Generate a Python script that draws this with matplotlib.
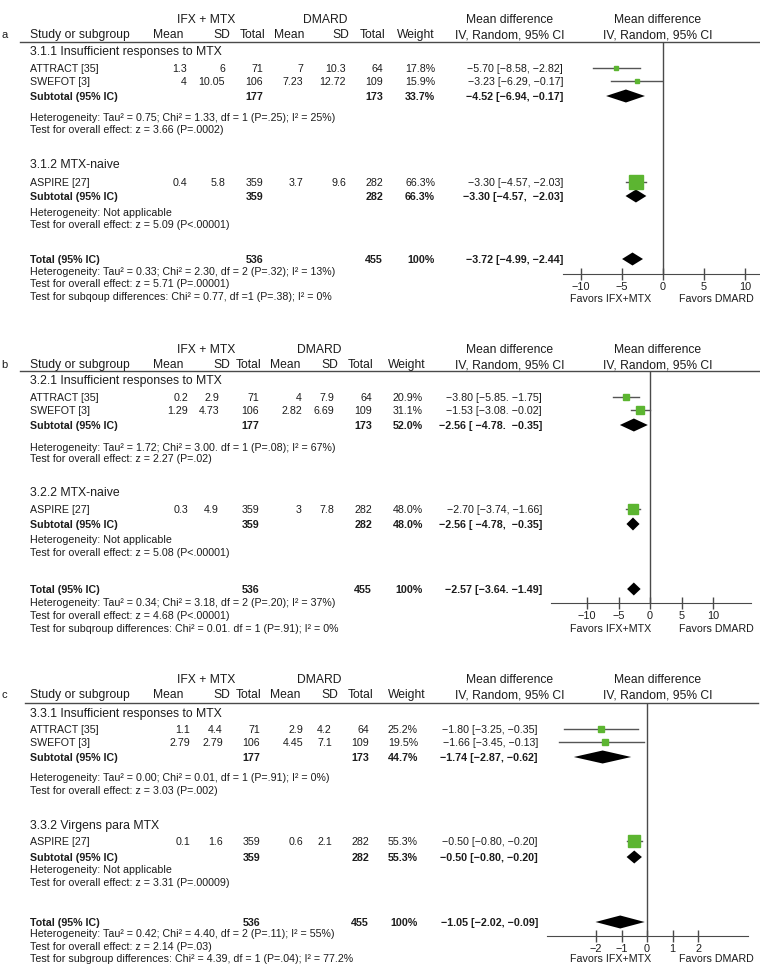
import matplotlib
matplotlib.use('Agg')  # no display
import matplotlib.pyplot as plt

plt.rcParams['font.family'] = ['Liberation Sans', 'DejaVu Sans']

STUDIES = ["ATTRACT [35]", "SWEFOT [3]", "ASPIRE [27]"]

# ---- panel a
A_GROUPS = ["3.1.1 Insufficient responses to MTX", "3.1.2 MTX-naive"]
A_MEAN1 = ["1.3", "4", "0.4"]
A_SD1 = ["6", "10.05", "5.8"]
A_N1 = ["71", "106", "359"]
A_MEAN2 = ["7", "7.23", "3.7"]
A_SD2 = ["10.3", "12.72", "9.6"]
A_N2 = ["64", "109", "282"]
A_WEIGHT = ["17.8%", "15.9%", "66.3%"]
A_CI_TXT = ["\u22125.70 [\u22128.58, \u22122.82]", "\u22123.23 [\u22126.29, \u22120.17]",
            "\u22123.30 [\u22124.57, \u22122.03]"]
A_MD = [-5.70, -3.23, -3.30]
A_LO = [-8.58, -6.29, -4.57]
A_HI = [-2.82, -0.17, -2.03]
A_SUB_N1 = ["177", "359", "536"]
A_SUB_N2 = ["173", "282", "455"]
A_SUB_W = ["33.7%", "66.3%", "100%"]
A_SUB_CI = ["\u22124.52 [\u22126.94, \u22120.17]", "\u22123.30 [\u22124.57,  \u22122.03]",
            "\u22123.72 [\u22124.99, \u22122.44]"]
A_DIA_MD = [-4.52, -3.30, -3.72]
A_DIA_LO = [-6.94, -4.57, -4.99]
A_DIA_HI = [-2.2, -2.03, -2.44]
A_STATS = ["Heterogeneity: Tau\u00b2 = 0.75; Chi\u00b2 = 1.33, df = 1 (P=.25); I\u00b2 = 25%)",
           "Test for overall effect: z = 3.66 (P=.0002)",
           "Heterogeneity: Not applicable",
           "Test for overall effect: z = 5.09 (P<.00001)",
           "Heterogeneity: Tau\u00b2 = 0.33; Chi\u00b2 = 2.30, df = 2 (P=.32); I\u00b2 = 13%)",
           "Test for overall effect: z = 5.71 (P=.00001)",
           "Test for subqoup differences: Chi\u00b2 = 0.77, df =1 (P=.38); I\u00b2 = 0%"]
A_TICKS = [-10, -5, 0, 5, 10]

# ---- panel b
B_GROUPS = ["3.2.1 Insufficient responses to MTX", "3.2.2 MTX-naive"]
B_MEAN1 = ["0.2", "1.29", "0.3"]
B_SD1 = ["2.9", "4.73", "4.9"]
B_N1 = ["71", "106", "359"]
B_MEAN2 = ["4", "2.82", "3"]
B_SD2 = ["7.9", "6.69", "7.8"]
B_N2 = ["64", "109", "282"]
B_WEIGHT = ["20.9%", "31.1%", "48.0%"]
B_CI_TXT = ["\u22123.80 [\u22125.85. \u22121.75]", "\u22121.53 [\u22123.08. \u22120.02]",
            "\u22122.70 [\u22123.74, \u22121.66]"]
B_MD = [-3.80, -1.53, -2.70]
B_LO = [-5.85, -3.08, -3.74]
B_HI = [-1.75, -0.02, -1.66]
B_SUB_N1 = ["177", "359", "536"]
B_SUB_N2 = ["173", "282", "455"]
B_SUB_W = ["52.0%", "48.0%", "100%"]
B_SUB_CI = ["\u22122.56 [ \u22124.78.  \u22120.35]", "\u22122.56 [ \u22124.78,  \u22120.35]",
            "\u22122.57 [\u22123.64. \u22121.49]"]
B_DIA_MD = [-2.56, -2.70, -2.57]
B_DIA_LO = [-4.78, -3.74, -3.64]
B_DIA_HI = [-0.35, -1.66, -1.49]
B_STATS = ["Heterogeneity: Tau\u00b2 = 1.72; Chi\u00b2 = 3.00. df = 1 (P=.08); I\u00b2 = 67%)",
           "Test for overall effect: z = 2.27 (P=.02)",
           "Heterogeneity: Not applicable",
           "Test for overall effect: z = 5.08 (P<.00001)",
           "Heterogeneity: Tau\u00b2 = 0.34; Chi\u00b2 = 3.18, df = 2 (P=.20); I\u00b2 = 37%)",
           "Test for overall effect: z = 4.68 (P<.00001)",
           "Test for subqroup differences: Chi\u00b2 = 0.01. df = 1 (P=.91); I\u00b2 = 0%"]
B_TICKS = [-10, -5, 0, 5, 10]

# ---- panel c
C_GROUPS = ["3.3.1 Insufficient responses to MTX", "3.3.2 Virgens para MTX"]
C_MEAN1 = ["1.1", "2.79", "0.1"]
C_SD1 = ["4.4", "2.79", "1.6"]
C_N1 = ["71", "106", "359"]
C_MEAN2 = ["2.9", "4.45", "0.6"]
C_SD2 = ["4.2", "7.1", "2.1"]
C_N2 = ["64", "109", "282"]
C_WEIGHT = ["25.2%", "19.5%", "55.3%"]
C_CI_TXT = ["\u22121.80 [\u22123.25, \u22120.35]", "\u22121.66 [\u22123.45, \u22120.13]",
            "\u22120.50 [\u22120.80, \u22120.20]"]
C_MD = [-1.80, -1.66, -0.50]
C_LO = [-3.25, -3.45, -0.80]
C_HI = [-0.35, -0.13, -0.20]
C_SUB_N1 = ["177", "359", "536"]
C_SUB_N2 = ["173", "282", "455"]
C_SUB_W = ["44.7%", "55.3%", "100%"]
C_SUB_CI = ["\u22121.74 [\u22122.87, \u22120.62]", "\u22120.50 [\u22120.80, \u22120.20]",
            "\u22121.05 [\u22122.02, \u22120.09]"]
C_DIA_MD = [-1.74, -0.50, -1.05]
C_DIA_LO = [-2.87, -0.80, -2.02]
C_DIA_HI = [-0.62, -0.20, -0.09]
C_STATS = ["Heterogeneity: Tau\u00b2 = 0.00; Chi\u00b2 = 0.01, df = 1 (P=.91); I\u00b2 = 0%)",
           "Test for overall effect: z = 3.03 (P=.002)",
           "Heterogeneity: Not applicable",
           "Test for overall effect: z = 3.31 (P=.00009)",
           "Heterogeneity: Tau\u00b2 = 0.42; Chi\u00b2 = 4.40, df = 2 (P=.11); I\u00b2 = 55%)",
           "Test for overall effect: z = 2.14 (P=.03)",
           "Test for subgroup differences: Chi\u00b2 = 4.39, df = 1 (P=.04); I\u00b2 = 77.2%"]
C_TICKS = [-2, -1, 0, 1, 2]

W, H = 760, 964
TXT = '#1c1c1c'
LINE = '#4a4a4a'
GREEN = '#5cb531'
BODY = 7.7
HEAD = 8.7

fig = plt.figure(figsize=(W / 100, H / 100), dpi=100)
bg = fig.add_axes([0, 0, 1, 1])
bg.set_xlim(0, W)
bg.set_ylim(H, 0)
bg.axis('off')


def t(x, y, s, size=BODY, ha='left', bold=False):
    # y is the visual centre of the capitals, in pixels from the top
    bg.text(x, y + 0.36 * size * 100 / 72, s, fontsize=size, ha=ha, va='baseline',
            color=TXT, fontweight='bold' if bold else 'normal')


def panel(L, label, groups, m1, s1, n1, m2, s2, n2, wts, ci_txt, md, lo, hi,
          sub_n1, sub_n2, sub_w, sub_ci, dmd, dlo, dhi, stats, ticks):
    c = L['cols']
    hc = L['hcols']
    t(1, L['study'], label, size=8)
    t(206, L['top'], "IFX + MTX", HEAD, 'center')
    t(L['dmard'], L['top'], "DMARD", HEAD, 'center')
    t(30, L['study'], "Study or subgroup", HEAD)
    for x, s in zip(hc, ["Mean", "SD", "Total", "Mean", "SD", "Total", "Weight"]):
        t(x, L['study'], s, HEAD, 'right')
    for x in (510, 658):
        t(x, L['top'], "Mean difference", HEAD, 'center')
        t(x, L['study'], "IV, Random, 95% CI", HEAD, 'center')
    bg.plot([L['lx0'], L['lx1']], [L['line'], L['line']], color=LINE, lw=1)

    t(30, L['g1'], groups[0], 8.8)
    t(30, L['g2'], groups[1], 8.8)
    rows = [L['r1'], L['r2'], L['r3']]
    for i, y in enumerate(rows):
        t(30, y, STUDIES[i])
        for x, v in zip(c, [m1[i], s1[i], n1[i], m2[i], s2[i], n2[i], wts[i], ci_txt[i]]):
            t(x, y, v, BODY, 'right')
    subs = [L['s1'], L['s2'], L['tot']]
    for i, y in enumerate(subs):
        t(30, y, "Total (95% IC)" if i == 2 else "Subtotal (95% IC)", bold=True)
        t(c[2], y, sub_n1[i], ha='right', bold=True)
        t(c[5], y, sub_n2[i], ha='right', bold=True)
        t(c[6], y, sub_w[i], ha='right', bold=True)
        t(c[7], y, sub_ci[i], ha='right', bold=True)
    for key, s in zip(['h1', 'o1', 'h2', 'o2', 'hT', 'oT', 'sd'], stats):
        t(30, L[key], s)

    # forest plot axes, x in mean-difference units, y in page pixels
    x0, x1, z, k = L['ax0'], L['ax1'], L['zero'], L['scale']
    ax = fig.add_axes([x0 / W, 1 - L['axis'] / H, (x1 - x0) / W, (L['axis'] - L['line']) / H])
    ax.set_xlim((x0 - z) / k, (x1 - z) / k)
    ax.set_ylim(L['axis'], L['line'])
    ax.patch.set_alpha(0)
    for sp in ['top', 'left', 'right']:
        ax.spines[sp].set_visible(False)
    ax.spines['bottom'].set_color(LINE)
    ax.set_yticks([])
    ax.set_xticks(ticks)
    ax.tick_params(axis='x', direction='inout', length=9, width=1, colors=LINE,
                   labelcolor=TXT, labelsize=7.8, pad=1)
    ax.axvline(0, color=LINE, lw=1)
    for i, y in enumerate(rows):
        w = float(wts[i].strip('%'))
        ax.plot([lo[i], hi[i]], [y, y], color='#555555', lw=1, clip_on=False)
        ax.plot(md[i], y, 's', color=GREEN, mec=GREEN, ms=(1.5 + 0.18 * w) * 0.72, clip_on=False)
    for i, y in enumerate(subs):
        ax.fill([dlo[i], dmd[i], dhi[i], dmd[i]], [y, y - 6.5, y, y + 6.5],
                color='black', lw=0, clip_on=False)
    t(611, L['fav'], "Favors IFX+MTX", ha='center')
    t(716, L['fav'], "Favors DMARD", ha='center')


LA = dict(top=19, study=34, line=42, g1=51, r1=68, r2=81, s1=96, h1=117, o1=129,
          g2=164, r3=182, s2=196, h2=212, o2=224, tot=259, hT=271, oT=283, sd=296,
          axis=274, fav=298, dmard=325, lx0=20, lx1=760,
          cols=[187, 225, 263, 303, 346, 383, 435, 563],
          hcols=[183, 230, 265, 304, 349, 385, 435],
          ax0=563, ax1=760, zero=663, scale=8.2)
LB = dict(top=349, study=364, line=371, g1=380, r1=397, r2=410, s1=425, h1=447, o1=458,
          g2=492, r3=509, s2=524, h2=539, o2=552, tot=589, hT=602, oT=615, sd=628,
          axis=603, fav=628, dmard=319, lx0=20, lx1=760,
          cols=[188, 219, 259, 302, 334, 372, 423, 542],
          hcols=[183, 230, 261, 300, 338, 373, 426],
          ax0=551, ax1=751, zero=650, scale=6.3)
LC = dict(top=679, study=694, line=703, g1=713, r1=729, r2=742, s1=757, h1=777, o1=790,
          g2=825, r3=841, s2=857, h2=869, o2=882, tot=922, hT=933, oT=946, sd=958,
          axis=936, fav=958, dmard=319, lx0=25, lx1=758,
          cols=[190, 223, 260, 303, 332, 369, 418, 538],
          hcols=[183, 230, 261, 300, 338, 373, 426],
          ax0=547, ax1=748, zero=647, scale=25.5)

panel(LA, "a", A_GROUPS, A_MEAN1, A_SD1, A_N1, A_MEAN2, A_SD2, A_N2, A_WEIGHT, A_CI_TXT,
      A_MD, A_LO, A_HI, A_SUB_N1, A_SUB_N2, A_SUB_W, A_SUB_CI,
      A_DIA_MD, A_DIA_LO, A_DIA_HI, A_STATS, A_TICKS)
panel(LB, "b", B_GROUPS, B_MEAN1, B_SD1, B_N1, B_MEAN2, B_SD2, B_N2, B_WEIGHT, B_CI_TXT,
      B_MD, B_LO, B_HI, B_SUB_N1, B_SUB_N2, B_SUB_W, B_SUB_CI,
      B_DIA_MD, B_DIA_LO, B_DIA_HI, B_STATS, B_TICKS)
panel(LC, "c", C_GROUPS, C_MEAN1, C_SD1, C_N1, C_MEAN2, C_SD2, C_N2, C_WEIGHT, C_CI_TXT,
      C_MD, C_LO, C_HI, C_SUB_N1, C_SUB_N2, C_SUB_W, C_SUB_CI,
      C_DIA_MD, C_DIA_LO, C_DIA_HI, C_STATS, C_TICKS)

fig.savefig('out.png', dpi=100)
